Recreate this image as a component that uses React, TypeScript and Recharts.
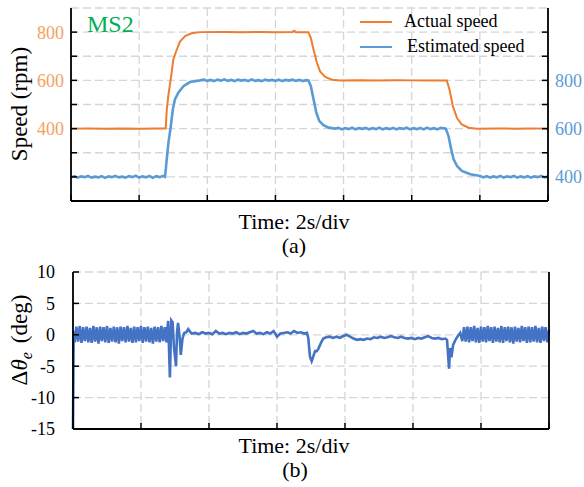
import React from 'react';
import { LineChart, Line, XAxis, YAxis, CartesianGrid, Legend } from 'recharts';

const FONT = '"Liberation Serif", "Times New Roman", serif';
const ORANGE = '#ed7d31';
const BLUE = '#5b9bd5';
const ERR_BLUE = '#4472c4';
const ORANGE_TICK = '#f4a15d';
const BLUE_TICK = '#5b9bd5';
const GRID = '#d6d6d6';

const timeTicks = [0, 2, 4, 6, 8, 10, 12, 14];
const leftSpeedTicks = [200, 300, 400, 500, 600, 700, 800];
const leftSpeedLabels = [400, 600, 800];
const rightSpeedTicks = [400, 500, 600, 700, 800, 900, 1000];
const rightSpeedLabels = [400, 600, 800];
const errorTicks = [-15, -10, -5, 0, 5, 10];

// [time (s), speed (rpm)]
const actualSpeed: [number, number][] = [
  [0, 400], [0.5, 401], [1.0, 400], [1.5, 401], [2.0, 400], [2.5, 401], [2.78, 401],
  [2.81, 478], [2.86, 540], [2.91, 589], [2.96, 637], [3.0, 685], [3.1, 726], [3.2, 761],
  [3.35, 784], [3.54, 795], [3.79, 800], [4.5, 801], [5.0, 800], [5.5, 801], [6.0, 800],
  [6.5, 801], [6.55, 806], [6.6, 800], [6.97, 800], [7.04, 775], [7.12, 727], [7.22, 672],
  [7.31, 637], [7.46, 614], [7.66, 603], [7.9, 600], [8.5, 601], [9.0, 600], [9.5, 601],
  [10.0, 600], [10.5, 600], [11.03, 600], [11.11, 561], [11.21, 492], [11.33, 444],
  [11.47, 417], [11.67, 404], [11.91, 400], [12.5, 401], [13.0, 400], [13.5, 401], [14.0, 400],
];

// [time (s), speed (rpm)] on the right axis
const estimatedSpeed: [number, number][] = [
  [0, 398], [0.1, 403], [0.2, 397], [0.3, 402], [0.4, 399], [0.5, 404], [0.6, 397], [0.7, 401],
  [0.8, 398], [0.9, 403], [1.0, 396], [1.1, 402], [1.2, 399], [1.3, 404], [1.4, 398], [1.5, 401],
  [1.6, 397], [1.7, 403], [1.8, 399], [1.9, 405], [2.0, 397], [2.1, 402], [2.2, 398], [2.3, 404],
  [2.4, 396], [2.5, 403], [2.6, 399], [2.7, 404], [2.76, 400],
  [2.81, 473], [2.86, 542], [2.93, 611], [2.99, 680], [3.05, 721], [3.15, 749], [3.3, 776],
  [3.49, 793], [3.79, 800],
  [3.9, 803], [4.0, 798], [4.1, 802], [4.2, 797], [4.3, 803], [4.4, 799], [4.5, 804], [4.6, 798],
  [4.7, 802], [4.8, 797], [4.9, 803], [5.0, 799], [5.1, 802], [5.2, 797], [5.3, 804], [5.4, 798],
  [5.5, 801], [5.6, 797], [5.7, 803], [5.8, 799], [5.9, 802], [6.0, 798], [6.1, 803], [6.2, 797],
  [6.3, 802], [6.4, 799], [6.5, 803], [6.6, 798], [6.7, 802], [6.8, 797], [6.9, 801], [6.97, 800],
  [7.04, 776], [7.12, 721], [7.2, 666], [7.29, 631], [7.41, 614], [7.56, 604], [7.75, 600],
  [7.85, 603], [7.95, 597], [8.05, 602], [8.15, 598], [8.25, 604], [8.35, 597], [8.45, 602],
  [8.55, 599], [8.65, 603], [8.75, 597], [8.85, 602], [8.95, 598], [9.05, 604], [9.15, 597],
  [9.25, 602], [9.35, 598], [9.45, 603], [9.55, 597], [9.65, 602], [9.75, 599], [9.85, 604],
  [9.95, 597], [10.05, 602], [10.15, 598], [10.25, 603], [10.35, 597], [10.45, 604], [10.55, 598],
  [10.65, 602], [10.75, 597], [10.85, 603], [10.95, 601], [11.0, 600],
  [11.08, 569], [11.16, 514], [11.23, 473], [11.33, 445], [11.47, 425], [11.72, 411], [12.01, 404],
  [12.1, 398], [12.2, 403], [12.3, 397], [12.4, 402], [12.5, 398], [12.6, 404], [12.7, 397],
  [12.8, 402], [12.9, 399], [13.0, 404], [13.1, 397], [13.2, 402], [13.3, 398], [13.4, 403],
  [13.5, 397], [13.6, 402], [13.7, 399], [13.8, 404], [13.9, 398], [14.0, 401],
];

// [time (s), angle error (deg)]
const angleError: [number, number][] = [
  [0, -15], [0.02, 0.6],
  [0.05, -1.2], [0.1, 1.3], [0.15, -1.1], [0.2, 1.4], [0.25, -1.3], [0.3, 1.2], [0.35, -1.0],
  [0.4, 1.3], [0.45, -1.2], [0.5, 1.1], [0.55, -1.3], [0.6, 1.4], [0.65, -1.1], [0.7, 1.2],
  [0.75, -1.4], [0.8, 1.3], [0.85, -1.0], [0.9, 1.2], [0.95, -1.2], [1.0, 1.4], [1.05, -1.3],
  [1.1, 1.1], [1.15, -1.1], [1.2, 1.3], [1.25, -1.2], [1.3, 1.2], [1.35, -1.4], [1.4, 1.3],
  [1.45, -1.0], [1.5, 1.2], [1.55, -1.2], [1.6, 1.4], [1.65, -1.1], [1.7, 1.1], [1.75, -1.3],
  [1.8, 1.3], [1.85, -1.2], [1.9, 1.2], [1.95, -1.0], [2.0, 1.4], [2.05, -1.3], [2.1, 1.2],
  [2.15, -1.1], [2.2, 1.3], [2.25, -1.2], [2.3, 1.1], [2.35, -1.4], [2.4, 1.3], [2.45, -1.1],
  [2.5, 1.2], [2.55, -1.2], [2.6, 1.4], [2.65, -1.0], [2.7, 1.2], [2.75, -1.2],
  [2.78, 1.2], [2.8, 2.2], [2.85, -6.8], [2.89, 2.3], [2.93, 2.0], [2.97, -2.0], [3.03, -5.0],
  [3.06, 0.5], [3.09, 1.9], [3.13, 0.0], [3.17, -3.2], [3.22, -0.6], [3.27, 0.3], [3.33, 0.4],
  [3.39, 0.9], [3.44, 0.5], [3.49, 0.2],
  [3.6, 0.3], [3.7, 0.1], [3.8, 0.4], [3.9, 0.2], [4.0, 0.3], [4.1, 0.1], [4.2, 0.6], [4.3, 0.2],
  [4.4, 0.3], [4.5, 0.1], [4.6, 0.3], [4.7, 0.2], [4.8, 0.4], [4.9, 0.1], [5.0, 0.3], [5.1, 0.2],
  [5.2, 0.4], [5.3, 0.6], [5.4, 0.2], [5.5, 0.3], [5.6, 0.1], [5.7, 0.4], [5.8, 0.2], [5.9, 0.6],
  [6.0, -0.3], [6.1, 0.2], [6.2, 0.3], [6.3, 0.4], [6.4, 0.2], [6.5, 0.6], [6.6, 0.3], [6.7, 0.4],
  [6.8, 0.2], [6.88, 0.3],
  [6.92, -0.5], [6.97, -3.5], [7.02, -4.2], [7.07, -3.4], [7.12, -2.6], [7.17, -2.6], [7.22, -2.2],
  [7.29, -1.3], [7.36, -0.6], [7.45, -0.4],
  [7.55, -0.3], [7.65, -0.5], [7.75, -0.3], [7.85, -0.5], [7.95, -0.2], [8.05, 0.0], [8.15, -0.3],
  [8.25, -0.6], [8.35, -0.8], [8.45, -0.7], [8.55, -0.8], [8.65, -0.6], [8.75, -0.7], [8.85, -0.4],
  [8.95, -0.5], [9.05, -0.3], [9.15, -0.5], [9.25, -0.4], [9.35, -0.2], [9.45, -0.4], [9.55, -0.5],
  [9.65, -0.3], [9.75, -0.5], [9.85, -0.6], [9.95, -0.5], [10.05, -0.7], [10.15, -0.5], [10.25, -0.6],
  [10.35, -0.4], [10.45, -0.2], [10.55, -0.5], [10.65, -0.6], [10.75, -0.5], [10.85, -0.7], [10.95, -0.6],
  [11.0, -0.8], [11.03, -3.0], [11.06, -5.4], [11.09, -2.1], [11.13, -3.6], [11.18, -1.6], [11.25, -0.8],
  [11.32, -0.2], [11.39, 0.3],
  [11.45, -1.0], [11.5, 1.2], [11.55, -1.1], [11.6, 1.3], [11.65, -1.2], [11.7, 1.2], [11.75, -1.0],
  [11.8, 1.4], [11.85, -1.2], [11.9, 1.1], [11.95, -1.3], [12.0, 1.3], [12.05, -1.1], [12.1, 1.2],
  [12.15, -1.2], [12.2, 1.4], [12.25, -1.0], [12.3, 1.2], [12.35, -1.3], [12.4, 1.3], [12.45, -1.1],
  [12.5, 1.1], [12.55, -1.2], [12.6, 1.4], [12.65, -1.3], [12.7, 1.2], [12.75, -1.0], [12.8, 1.3],
  [12.85, -1.2], [12.9, 1.2], [12.95, -1.4], [13.0, 1.3], [13.05, -1.1], [13.1, 1.1], [13.15, -1.2],
  [13.2, 1.4], [13.25, -1.0], [13.3, 1.2], [13.35, -1.3], [13.4, 1.3], [13.45, -1.2], [13.5, 1.2],
  [13.55, -1.1], [13.6, 1.4], [13.65, -1.2], [13.7, 1.1], [13.75, -1.3], [13.8, 1.3], [13.85, -1.0],
  [13.9, 1.2], [13.95, -1.2], [14.0, 0.8],
];

const toRows = (pts: [number, number][]) => pts.map(([t, v]) => ({ t, v }));
const actualRows = toRows(actualSpeed);
const estRows = toRows(estimatedSpeed);
const errRows = toRows(angleError);

const axisLine = { stroke: '#000', strokeWidth: 1.8 };
const tickLine = { stroke: '#000', strokeWidth: 1.5 };
const serif = { fontFamily: FONT };

const LegendContent = (props: any) => {
  const payload = props.payload || [];
  return (
    <svg width={190} height={54} style={{ display: 'block' }}>
      {payload.map((p: any, i: number) => (
        <g key={i}>
          <line x1={5} x2={37} y1={16 + 25 * i} y2={16 + 25 * i} stroke={p.color} strokeWidth={2} />
          <text x={i === 0 ? 49 : 52} y={21 + 25 * i} style={serif} fontSize={18} fill="#000">
            {p.value}
          </text>
        </g>
      ))}
    </svg>
  );
};

export default function App() {
  return (
    <div style={{ position: 'absolute', left: 0, top: 0, width: 584, height: 487, background: '#fff', fontFamily: FONT }}>
      <div style={{ position: 'absolute', left: 0, top: 0 }}>
        <LineChart width={584} height={250} margin={{ top: 8, right: 0, bottom: 0, left: 0 }} style={serif}>
          <CartesianGrid yAxisId="left" stroke={GRID} strokeDasharray="8 4" strokeWidth={1.3} />
          <XAxis dataKey="t" type="number" domain={[0, 14]} ticks={timeTicks} interval={0} height={49}
            tickSize={-6} tickFormatter={() => ''} axisLine={axisLine} tickLine={tickLine} />
          <XAxis xAxisId="top" orientation="top" dataKey="t" type="number" domain={[0, 14]} height={0}
            tick={false} tickLine={false} axisLine={axisLine} />
          <YAxis yAxisId="left" type="number" domain={[100, 900]} ticks={leftSpeedTicks} interval={0} width={71}
            tickSize={-6} tickMargin={13} axisLine={axisLine} tickLine={tickLine}
            tickFormatter={(v: number) => (leftSpeedLabels.includes(v) ? String(v) : '')}
            tick={{ fill: ORANGE_TICK, fontSize: 18, fontFamily: FONT, style: serif }} />
          <YAxis yAxisId="right" orientation="right" type="number" domain={[300, 1100]} ticks={rightSpeedTicks}
            interval={0} width={36} tickSize={-6} tickMargin={13} axisLine={axisLine} tickLine={tickLine}
            tickFormatter={(v: number) => (rightSpeedLabels.includes(v) ? String(v) : '')}
            tick={{ fill: BLUE_TICK, fontSize: 18, fontFamily: FONT, style: serif }} />
          <Line yAxisId="left" data={actualRows} dataKey="v" name="Actual speed" stroke={ORANGE} strokeWidth={2}
            dot={false} isAnimationActive={false} type="linear" />
          <Line yAxisId="right" data={estRows} dataKey="v" name="Estimated speed" stroke={BLUE} strokeWidth={2.6}
            dot={false} isAnimationActive={false} type="linear" />
          <Legend layout="vertical" align="center" verticalAlign="middle"
            wrapperStyle={{ left: 355, top: 6, width: 190, height: 54 }} content={LegendContent} />
        </LineChart>
      </div>
      <div style={{ position: 'absolute', left: 0, top: 250 }}>
        <LineChart width={584} height={237} margin={{ top: 22, right: 0, bottom: 0, left: 0 }} style={serif}>
          <CartesianGrid yAxisId="l" stroke={GRID} strokeDasharray="8 4" strokeWidth={1.3} />
          <XAxis dataKey="t" type="number" domain={[0, 14]} ticks={timeTicks} interval={0} height={58}
            tickSize={-6} tickFormatter={() => ''} axisLine={axisLine} tickLine={tickLine} />
          <XAxis xAxisId="top" orientation="top" dataKey="t" type="number" domain={[0, 14]} height={0}
            tick={false} tickLine={false} axisLine={axisLine} />
          <YAxis yAxisId="l" type="number" domain={[-15, 10]} ticks={errorTicks} interval={0} width={73}
            tickSize={-6} tickMargin={24} axisLine={axisLine} tickLine={tickLine}
            tick={{ fill: '#000', fontSize: 18, fontFamily: FONT, style: serif }} />
          <YAxis yAxisId="r" orientation="right" type="number" domain={[-15, 10]} width={35}
            tick={false} tickLine={false} axisLine={axisLine} />
          <Line yAxisId="l" data={errRows} dataKey="v" name="Angle error" stroke={ERR_BLUE} strokeWidth={2.6}
            dot={false} isAnimationActive={false} type="linear" />
        </LineChart>
      </div>
      <svg width={584} height={487} style={{ position: 'absolute', left: 0, top: 0, pointerEvents: 'none', fontFamily: FONT }}>
        <text x={87} y={32} style={serif} fontSize={24} fill="#00b050">MS2</text>
        <text transform="translate(27,104) rotate(-90)" textAnchor="middle" style={serif} fontSize={23} fill="#000">
          Speed (rpm)
        </text>
        <text x={294} y={229} textAnchor="middle" style={serif} fontSize={22} fill="#000">Time: 2s/div</text>
        <text x={294} y={253} textAnchor="middle" style={serif} fontSize={22} fill="#000">(a)</text>
        <text transform="translate(27,340) rotate(-90)" textAnchor="middle" style={serif} fontSize={23} fill="#000">
          <tspan>Δ</tspan>
          <tspan fontStyle="italic">θ</tspan>
          <tspan fontStyle="italic" fontSize={16} dy={5}>e</tspan>
          <tspan dy={-5} dx={9}>(deg)</tspan>
        </text>
        <text x={294} y={453} textAnchor="middle" style={serif} fontSize={22} fill="#000">Time: 2s/div</text>
        <text x={295} y={477} textAnchor="middle" style={serif} fontSize={22} fill="#000">(b)</text>
      </svg>
    </div>
  );
}
